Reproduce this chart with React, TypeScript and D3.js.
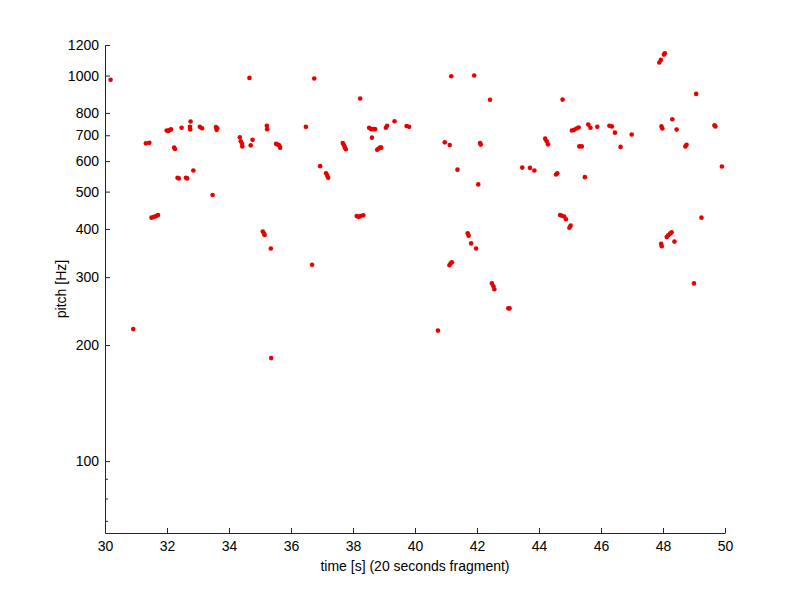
import React, { useEffect, useRef } from 'react';
import * as d3 from 'd3';

// pitch track samples (time in s, pitch in Hz)
const times = [
  30.18, 30.91, 31.32, 31.43, 31.5, 31.58, 31.65, 31.71, 31.99, 32.04, 32.08, 32.13,
  32.23, 32.26, 32.34, 32.38, 32.47, 32.61, 32.65, 32.74, 32.75, 32.76, 32.85, 33.06,
  33.13, 33.47, 33.58, 33.6, 33.62, 34.35, 34.38, 34.42, 34.43, 34.66, 34.7, 34.76,
  35.09, 35.13, 35.15, 35.22, 35.23, 35.35, 35.36, 35.52, 35.57, 35.62, 35.65, 36.48,
  36.68, 36.75, 36.94, 37.13, 37.17, 37.2, 37.67, 37.71, 37.74, 37.77, 38.12, 38.18,
  38.23, 38.25, 38.33, 38.52, 38.58, 38.61, 38.65, 38.71, 38.78, 38.82, 38.87, 38.91,
  39.06, 39.1, 39.34, 39.73, 39.81, 40.74, 40.96, 41.11, 41.12, 41.15, 41.17, 41.19,
  41.37, 41.7, 41.73, 41.81, 41.91, 41.97, 42.04, 42.1, 42.12, 42.42, 42.48, 42.53,
  42.56, 43.01, 43.05, 43.46, 43.71, 43.85, 44.2, 44.25, 44.29, 44.55, 44.59, 44.68,
  44.74, 44.76, 44.81, 44.87, 44.98, 45.02, 45.06, 45.13, 45.21, 45.28, 45.3, 45.38,
  45.48, 45.59, 45.66, 45.88, 46.27, 46.35, 46.45, 46.63, 46.99, 47.88, 47.93, 47.94,
  47.95, 47.96, 47.98, 48.03, 48.06, 48.12, 48.17, 48.23, 48.28, 48.3, 48.37, 48.44,
  48.72, 48.76, 49.0, 49.07, 49.24, 49.66, 49.69, 49.9,
];
const pitches = [
  975, 220, 667, 669, 428, 430, 432, 435, 720, 718, 722, 725,
  650, 645, 543, 541, 732, 543, 541, 736, 725, 760, 567, 736,
  730, 490, 735, 723, 730, 692, 675, 665, 655, 986, 659, 681,
  394, 389, 386, 741, 726, 356, 185, 665, 662, 659, 650, 736,
  323, 982, 582, 558, 550, 543, 668, 659, 650, 644, 432, 430,
  872, 432, 434, 732, 726, 690, 726, 726, 642, 646, 650, 650,
  732, 741, 761, 740, 736, 218, 671, 322, 660, 326, 996, 328,
  570, 390, 384, 367, 1000, 356, 522, 668, 662, 865, 289, 284,
  279, 249, 249, 577, 576, 567, 686, 675, 663, 554, 558, 435,
  433, 866, 431, 424, 403, 408, 720, 723, 729, 733, 655, 655,
  545, 746, 732, 736, 741, 738, 711, 653, 703, 1081, 1098, 366,
  738, 361, 729, 1133, 1142, 381, 385, 389, 392, 770, 371, 724,
  655, 661, 289, 896, 428, 743, 738, 581,
];

const yTicks = [100, 200, 300, 400, 500, 600, 700, 800, 1000, 1200];
const yMinorTicks = [70, 80, 90];
const xTicks = [30, 32, 34, 36, 38, 40, 42, 44, 46, 48, 50];

const App: React.FC = () => {
  const ref = useRef<SVGSVGElement | null>(null);

  useEffect(() => {
    if (!ref.current) return;
    const svg = d3.select(ref.current);
    svg.selectAll('*').remove();

    const left = 105, right = 725, top = 45, bottom = 533;
    const x = d3.scaleLinear().domain([30, 50]).range([left, right]);
    const y = d3.scaleLog().domain([65.1, 1200]).range([bottom, top]);

    const font = '"Liberation Sans", Arial, sans-serif';
    const axisColor = '#262626';

    // x axis (ticks point inward)
    const gx = svg.append('g')
      .attr('transform', `translate(0,${bottom})`)
      .call(d3.axisBottom(x).tickValues(xTicks).tickSize(-5).tickSizeOuter(0).tickPadding(8).tickFormat(d3.format('d')));

    // y axis, log scale
    const gy = svg.append('g')
      .attr('transform', `translate(${left},0)`)
      .call(d3.axisLeft(y).tickValues(yTicks).tickSize(-5).tickSizeOuter(0).tickPadding(6).tickFormat(d3.format('d')));

    const gyMinor = svg.append('g')
      .attr('transform', `translate(${left},0)`)
      .call(d3.axisLeft(y).tickValues(yMinorTicks).tickSize(-3).tickSizeOuter(0).tickFormat(() => ''));
    gyMinor.select('.domain').remove();

    [gx, gy, gyMinor].forEach(g => {
      g.selectAll('path, line').attr('stroke', axisColor);
      g.selectAll('text').attr('fill', '#000').style('font-family', font).style('font-size', '14px');
    });

    // axis labels
    svg.append('text')
      .attr('x', (left + right) / 2)
      .attr('y', 571)
      .attr('text-anchor', 'middle')
      .style('font-family', font)
      .style('font-size', '14px')
      .text('time [s] (20 seconds fragment)');

    svg.append('text')
      .attr('transform', `translate(66,${(top + bottom) / 2}) rotate(-90)`)
      .attr('text-anchor', 'middle')
      .style('font-family', font)
      .style('font-size', '14px')
      .text('pitch [Hz]');

    // pitch points
    const pts = times.map((t, i) => ({ t, f: pitches[i] }));
    svg.append('g')
      .selectAll('circle')
      .data(pts)
      .enter()
      .append('circle')
      .attr('cx', d => x(d.t))
      .attr('cy', d => y(d.f))
      .attr('r', 2.3)
      .attr('fill', '#e60000');
  }, []);

  return (
    <svg
      ref={ref}
      width={800}
      height={600}
      style={{ position: 'absolute', left: 0, top: 0, background: '#fff' }}
    />
  );
};

export default App;
